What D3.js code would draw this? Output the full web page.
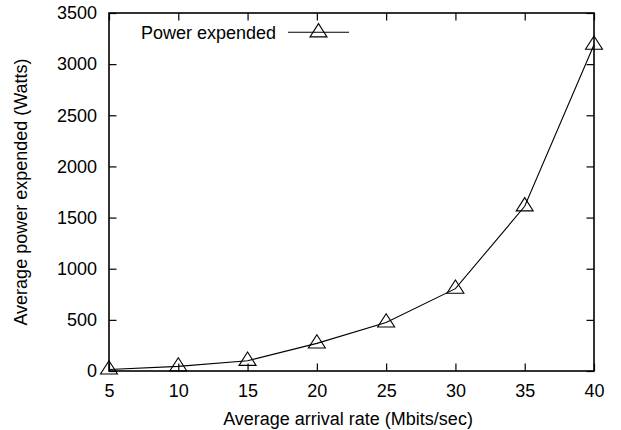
<!DOCTYPE html>
<html>
<head>
<meta charset="utf-8">
<script src="https://cdn.jsdelivr.net/npm/d3@7"></script>
<style>
  body { margin: 0; background: #fff; }
  svg text { font-family: "Liberation Sans", Arial, sans-serif; fill: #000; }
</style>
</head>
<body>
<div id="chart"></div>
<script>
// data
var rates = [5, 10, 15, 20, 25, 30, 35, 40];
var power = [15, 45, 100, 270, 475, 805, 1610, 3190];
var xTicks = [5, 10, 15, 20, 25, 30, 35, 40];
var yTicks = [0, 500, 1000, 1500, 2000, 2500, 3000, 3500];
var seriesName = "Power expended";

var width = 621;
var height = 430;

// plot box (note: "top" is reserved on window, so use other names)
var plotLeft = 109, plotRight = 594, plotTop = 13, plotBottom = 371;
var fontSize = 18;
var tickLen = 7.5;

var svg = d3
  .select("#chart")
  .append("svg")
  .attr("width", width)
  .attr("height", height);

var xScale = d3.scaleLinear().domain([5, 40]).range([plotLeft, plotRight]);
var yScale = d3.scaleLinear().domain([0, 3500]).range([plotBottom, plotTop]);

// axes, ticks pointing inward (gnuplot style, mirrored on top/right)
function styleAxis(g, showText) {
  g.select(".domain").remove();
  g.selectAll(".tick line").attr("stroke", "#000").attr("stroke-width", 1.2);
  g.selectAll(".tick text")
    .attr("font-size", fontSize)
    .attr("font-family", "Liberation Sans, Arial, sans-serif")
    .attr("fill", "#000");
  if (!showText) g.selectAll(".tick text").remove();
}

svg.append("g")
  .attr("transform", "translate(0," + plotBottom + ")")
  .call(d3.axisBottom(xScale).tickValues(xTicks).tickSizeInner(-tickLen).tickSizeOuter(0).tickPadding(13.7))
  .call(styleAxis, true);

svg.append("g")
  .attr("transform", "translate(0," + plotTop + ")")
  .call(d3.axisTop(xScale).tickValues(xTicks).tickSizeInner(-tickLen).tickSizeOuter(0))
  .call(styleAxis, false);

svg.append("g")
  .attr("transform", "translate(" + plotLeft + ",0)")
  .call(d3.axisLeft(yScale).tickValues(yTicks).tickSizeInner(-tickLen).tickSizeOuter(0).tickPadding(12).tickFormat(d3.format("d")))
  .call(styleAxis, true);

svg.append("g")
  .attr("transform", "translate(" + plotRight + ",0)")
  .call(d3.axisRight(yScale).tickValues(yTicks).tickSizeInner(-tickLen).tickSizeOuter(0))
  .call(styleAxis, false);

// frame
svg.append("rect")
  .attr("x", plotLeft)
  .attr("y", plotTop)
  .attr("width", plotRight - plotLeft)
  .attr("height", plotBottom - plotTop)
  .attr("fill", "none")
  .attr("stroke", "#000")
  .attr("stroke-width", 1.6);

// axis titles
svg.append("text")
  .attr("x", 348)
  .attr("y", 424.5)
  .attr("text-anchor", "middle")
  .attr("font-size", fontSize)
  .text("Average arrival rate (Mbits/sec)");

svg.append("text")
  .attr("transform", "translate(27," + (plotTop + plotBottom) / 2 + ")rotate(-90)")
  .attr("text-anchor", "middle")
  .attr("font-size", fontSize)
  .text("Average power expended (Watts)");

// series
var data = rates.map(function(r, i) {
  return { x: r, y: power[i] };
});

var line = d3.line()
  .x(function(d) { return xScale(d.x); })
  .y(function(d) { return yScale(d.y); });

svg.append("path")
  .datum(data)
  .attr("d", line)
  .attr("fill", "none")
  .attr("stroke", "#000")
  .attr("stroke-width", 1.1);

var triangle = "M0,-8.7L8.5,4.6L-8.5,4.6Z";

svg.selectAll(".marker")
  .data(data)
  .enter()
  .append("path")
  .attr("class", "marker")
  .attr("d", triangle)
  .attr("transform", function(d) {
    return "translate(" + xScale(d.x) + "," + yScale(d.y) + ")";
  })
  .attr("fill", "none")
  .attr("stroke", "#000")
  .attr("stroke-width", 1.1);

// legend
var legend = svg.append("g");
legend.append("text")
  .attr("x", 276)
  .attr("y", 39)
  .attr("text-anchor", "end")
  .attr("font-size", fontSize)
  .text(seriesName);
legend.append("line")
  .attr("x1", 288)
  .attr("x2", 349)
  .attr("y1", 32.3)
  .attr("y2", 32.3)
  .attr("stroke", "#000")
  .attr("stroke-width", 1.1);
legend.append("path")
  .attr("d", triangle)
  .attr("transform", "translate(318.5,32.3)")
  .attr("fill", "none")
  .attr("stroke", "#000")
  .attr("stroke-width", 1.1);
</script>
</body>
</html>
